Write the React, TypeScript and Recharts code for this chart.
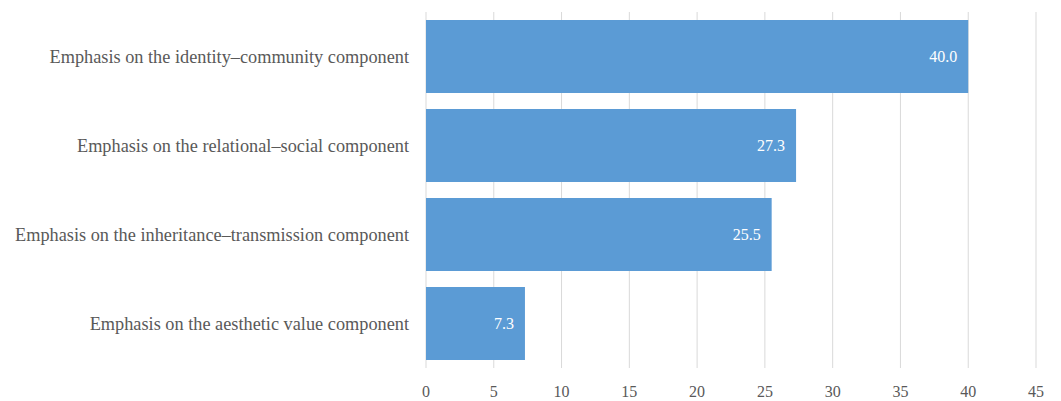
import { Bar, BarChart, CartesianGrid, LabelList, XAxis, YAxis } from "recharts";

const components = [
  "Emphasis on the identity–community component",
  "Emphasis on the relational–social component",
  "Emphasis on the inheritance–transmission component",
  "Emphasis on the aesthetic value component",
];
const shares = [40.0, 27.3, 25.5, 7.3];
const xTicks = [0, 5, 10, 15, 20, 25, 30, 35, 40, 45];

const data = components.map((name, i) => ({ name, value: shares[i] }));

const font = "'Liberation Serif', 'DejaVu Serif', serif";
const textColor = "#595959";

export default function App() {
  return (
    <div style={{ position: "absolute", left: 0, top: 0, background: "#fff" }}>
      <BarChart
        width={1061}
        height={401}
        data={data}
        layout="vertical"
        margin={{ top: 12, right: 25, left: 0, bottom: 3 }}
        barCategoryGap="9%"
      >
        <CartesianGrid horizontal={false} stroke="#d9d9d9" strokeWidth={1} />
        <XAxis
          type="number"
          domain={[0, 45]}
          ticks={xTicks}
          height={30}
          axisLine={false}
          tickLine={false}
          tickMargin={12}
          tick={{ fill: textColor, fontSize: 16, fontFamily: font }}
        />
        <YAxis
          type="category"
          dataKey="name"
          width={426}
          axisLine={false}
          tickLine={false}
          tickMargin={11}
          tick={{ fill: textColor, fontSize: 18.3, fontFamily: font }}
        />
        <Bar dataKey="value" fill="#5b9bd5" isAnimationActive={false}>
          <LabelList
            dataKey="value"
            position="insideRight"
            offset={11}
            fill="#ffffff"
            fontSize={16}
            fontFamily={font}
            formatter={(v: number) => v.toFixed(1)}
          />
        </Bar>
      </BarChart>
    </div>
  );
}
